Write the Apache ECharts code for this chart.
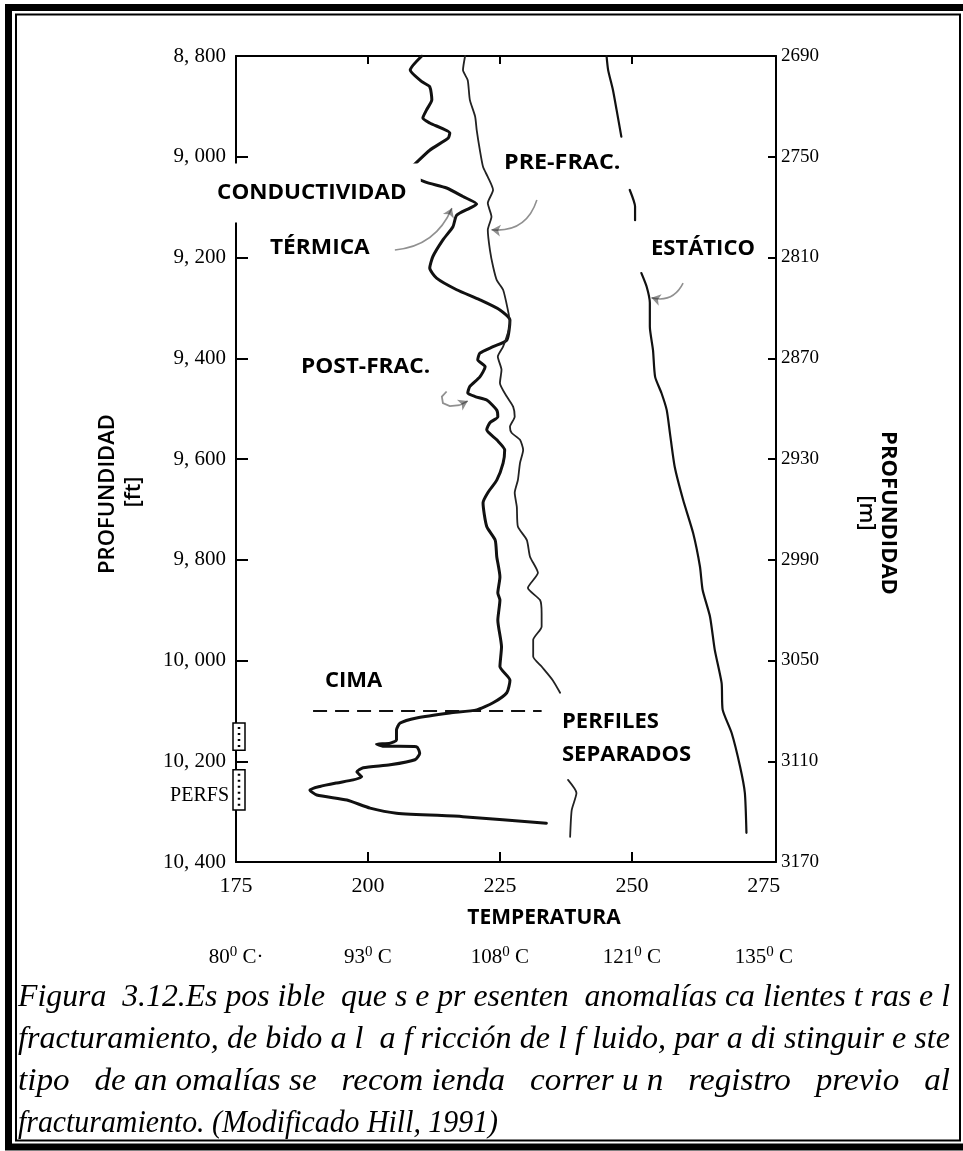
<!DOCTYPE html>
<html><head><meta charset="utf-8">
<script src="https://cdn.jsdelivr.net/npm/echarts@6/dist/echarts.min.js"></script>
<style>html,body{margin:0;padding:0;background:#fff}#c{width:963px;height:1151px}</style>
</head><body><div id="c"></div>
<script>
// ---------- axis ticks & labels ----------
const tempTicks = [175, 200, 225, 250, 275];
const tempInnerTicks = [200, 225, 250];
const celsiusLabels = ['80', '93', '108', '121', '135'];
const depthTicks = [8800, 9000, 9200, 9400, 9600, 9800, 10000, 10200, 10400];
const depthInnerTicks = [9000, 9200, 9400, 9600, 9800, 10000, 10200];
const depthLabels = ['8, 800', '9, 000', '9, 200', '9, 400', '9, 600', '9, 800', '10, 000', '10, 200', '10, 400'];
const meterLabels = ['2690', '2750', '2810', '2870', '2930', '2990', '3050', '3110', '3170'];

// ---------- series values (temperature °F, depth ft) ----------
const postFracTemp = [210.2,208.0,210.2,211.7,212.1,211.1,210.4,211.7,215.5,215.2,211.7,208.3,207.0,210.8,214.9,218.0,220.6,219.3,216.8,216.1,214.2,212.3,211.7,213.0,216.8,221.2,225.0,226.9,226.3,223.7,221.2,220.8,222.2,221.2,219.3,218.9,220.3,222.5,224.4,224.6,223.1,222.5,224.4,225.9,225.6,224.4,222.7,221.8,222.5,224.1,224.4,225.0,224.6,225.0,224.6,225.3,225.0,226.9,226.3,223.7,220.6,215.5,209.2,206.1,205.4,205.4,204.2,201.6,202.8,209.2,209.8,208.9,204.2,199.1,197.9,198.8,197.2,194.1,190.9,189.0,190.3,196.0,200.4,205.4,218.0,233.8];
const postFracDepth = [8800,8828,8851,8861,8887,8907,8923,8933,8953,8963,8987,9020,9030,9050,9062,9079,9094,9102,9116,9139,9165,9198,9221,9241,9264,9284,9304,9324,9364,9377,9390,9403,9417,9437,9456,9469,9476,9483,9503,9516,9528,9542,9562,9582,9608,9642,9667,9687,9734,9761,9794,9834,9866,9880,9920,9973,10012,10039,10064,10084,10098,10104,10114,10124,10138,10158,10164,10166,10170,10171,10184,10197,10207,10213,10221,10231,10237,10243,10250,10257,10267,10277,10293,10303,10310,10323];

const preFracTemp = [218.4,218.0,218.9,219.3,220.3,220.6,221.2,221.8,222.7,223.7,222.7,223.4,222.7,223.1,223.7,224.4,225.6,226.5,226.9,226.5,225.6,224.6,225.3,225.0,226.3,227.5,227.8,226.9,227.2,228.8,229.4,228.8,228.4,227.8,228.2,228.4,230.1,230.7,232.2,230.3,232.6,232.9,232.9,231.3,231.3,232.9,235.0,236.4,null,237.9,239.5,238.6,238.3];
const preFracDepth = [8800,8828,8848,8887,8920,8947,8987,9020,9040,9066,9092,9119,9145,9185,9218,9245,9264,9304,9330,9350,9377,9397,9423,9449,9476,9496,9516,9536,9548,9562,9582,9608,9642,9667,9695,9734,9761,9794,9826,9856,9880,9906,9933,9959,9992,10012,10039,10064,null,10237,10263,10297,10350];

const staticTemp = [245.2,245.5,246.4,247.1,248.0,null,249.6,250.6,250.6,null,251.8,252.8,253.4,253.4,254.0,254.4,255.6,256.6,257.2,258.1,259.7,261.6,262.9,263.4,264.8,265.7,267.0,267.2,268.9,270.5,271.4,271.7];
const staticDepth = [8800,8828,8867,8907,8960,null,9066,9099,9126,null,9231,9258,9290,9337,9384,9437,9469,9503,9548,9615,9681,9747,9814,9860,9913,9979,10045,10098,10144,10211,10263,10342];

const cimaTemp = [189.6, 232.9];
const cimaDepth = [10100, 10100];

// annotation arrows
const arrowFrom = [[205.1, 9185], [232.0, 9086], [259.7, 9251], [217.4, 9493]];
const arrowTo = [[215.9, 9102], [223.4, 9145], [253.7, 9280], [218.9, 9485]];
const arrowCurve = [-0.3, 0.4, 0.4, 0];
const hookTemp = [214.9, 214.0, 214.2, 215.5, 217.4];
const hookDepth = [9466, 9476, 9489, 9495, 9493];

// perforation intervals (ft)
const perfTop = [10124, 10217];
const perfBottom = [10178, 10297];

const captionLines = [
  'Figura  3.12.Es pos ible  que s e pr esenten  anomalías ca lientes t ras e l',
  'fracturamiento, de bido a l  a f ricción de l f luido, par a di stinguir e ste',
  'tipo   de an omalías se   recom ienda   correr u n   registro   previo   al',
  'fracturamiento. (Modificado Hill, 1991)'
];

// ---------- build ----------
const serif = '"Liberation Serif", "Times New Roman", serif';
const sans = '"Open Sans", "DejaVu Sans", sans-serif';
const pair = (T, D) => T.map((t, i) => (t === null ? ['-', '-'] : [t, D[i]]));

const chart = echarts.init(document.getElementById('c'), null, {renderer: 'canvas'});

const xBase = {type: 'value', min: 175, max: 277.3, splitLine: {show: false}};
const yBase = {type: 'value', min: 8800, max: 10400, inverse: true, splitLine: {show: false}};
const axLine = {show: true, onZero: false, lineStyle: {color: '#000', width: 2}};

const option = {
  animation: false,
  backgroundColor: '#fff',
  grid: {left: 236, top: 56, width: 540, height: 806},
  xAxis: [
    Object.assign({}, xBase, {
      position: 'bottom', axisLine: axLine,
      axisTick: {show: true, inside: true, length: 10, customValues: tempInnerTicks, lineStyle: {color: '#000', width: 2}},
      axisLabel: {customValues: tempTicks, formatter: v => String(v), margin: 13, fontFamily: serif, fontSize: 22, color: '#000'}
    }),
    Object.assign({}, xBase, {
      position: 'top', axisLine: axLine,
      axisTick: {show: true, inside: true, length: 8, customValues: tempInnerTicks, lineStyle: {color: '#000', width: 2}},
      axisLabel: {show: false}
    }),
    Object.assign({}, xBase, {
      position: 'bottom', offset: 70, axisLine: {show: false}, axisTick: {show: false},
      axisLabel: {
        customValues: tempTicks, margin: 13,
        formatter: v => {
          const i = tempTicks.indexOf(v);
          return '{n|' + celsiusLabels[i] + '}{s|0}{n| C' + (i === 0 ? '·' : '') + '}';
        },
        rich: {
          n: {fontFamily: serif, fontSize: 21, color: '#000', lineHeight: 24},
          s: {fontFamily: serif, fontSize: 15, color: '#000', verticalAlign: 'top', lineHeight: 14}
        }
      }
    })
  ],
  yAxis: [
    Object.assign({}, yBase, {
      position: 'left', axisLine: axLine,
      axisTick: {show: true, inside: true, length: 12, customValues: depthInnerTicks, lineStyle: {color: '#000', width: 2}},
      axisLabel: {customValues: depthTicks, formatter: v => depthLabels[depthTicks.indexOf(v)], margin: 10, fontFamily: serif, fontSize: 21, color: '#000'}
    }),
    Object.assign({}, yBase, {
      position: 'right', axisLine: axLine,
      axisTick: {show: true, inside: true, length: 8, customValues: depthInnerTicks, lineStyle: {color: '#000', width: 2}},
      axisLabel: {customValues: depthTicks, formatter: v => meterLabels[depthTicks.indexOf(v)], margin: 5, fontFamily: serif, fontSize: 19, color: '#000'}
    })
  ],
  series: [
    {name: 'POST-FRAC.', type: 'line', data: pair(postFracTemp, postFracDepth), symbol: 'none', smooth: 0.2,
     lineStyle: {color: '#111', width: 3, join: 'round', cap: 'round'}, z: 3},
    {name: 'PRE-FRAC.', type: 'line', data: pair(preFracTemp, preFracDepth), symbol: 'none', smooth: 0.2,
     lineStyle: {color: '#222', width: 1.8, join: 'round', cap: 'round'}, z: 3},
    {name: 'ESTÁTICO', type: 'line', data: pair(staticTemp, staticDepth), symbol: 'none', smooth: 0.2,
     lineStyle: {color: '#111', width: 2.2, join: 'round', cap: 'round'}, z: 3},
    {name: 'CIMA', type: 'line', data: pair(cimaTemp, cimaDepth), symbol: 'none',
     lineStyle: {color: '#111', width: 2, type: [14, 8]}, z: 3},
    {type: 'lines', coordinateSystem: 'cartesian2d', xAxisIndex: 0, yAxisIndex: 0,
     symbol: ['none', 'arrow'], symbolSize: 9,
     lineStyle: {color: '#222', width: 1.6},
     data: arrowFrom.map((f, i) => ({coords: [f, arrowTo[i]], lineStyle: {curveness: arrowCurve[i]}})), z: 4},
    {type: 'lines', coordinateSystem: 'cartesian2d', xAxisIndex: 0, yAxisIndex: 0, polyline: true,
     lineStyle: {color: '#222', width: 1.8},
     data: [{coords: pair(hookTemp, hookDepth)}], z: 4}
  ]
};
chart.setOption(option);

// ---------- annotations / frame ----------
const g = [];
g.push({type: 'rect', shape: {x: 8.5, y: 7.5, width: 970, height: 1139.5}, style: {fill: 'none', stroke: '#000', lineWidth: 7}, z: 100});
g.push({type: 'rect', shape: {x: 16, y: 14.5, width: 944, height: 1126}, style: {fill: 'none', stroke: '#000', lineWidth: 2}, z: 100});

function label(text, x, y, opts) {
  opts = opts || {};
  g.push({
    type: 'text', x: x, y: y, z: 110, rotation: opts.rotation || 0, scaleX: opts.scaleX || 1,
    style: Object.assign({
      text: text, fontFamily: sans, fontWeight: 'bold', fontSize: 22, fill: '#000',
      align: opts.align || 'left', verticalAlign: 'middle'
    }, opts.style || {})
  });
}
label('CONDUCTIVIDAD', 213, 193, {scaleX: 1.02, style: {backgroundColor: '#fff', padding: [25, 14, 12, 4]}});
label('TÉRMICA', 270, 248, {scaleX: 1.03});
label('PRE-FRAC.', 504, 163, {scaleX: 1.06});
label('ESTÁTICO', 651, 249);
label('POST-FRAC.', 301, 367, {scaleX: 1.03});
label('CIMA', 325, 681);
label('PERFILES', 562, 722);
label('SEPARADOS', 562, 755);
label('PERFS', 229, 796, {align: 'right', style: {fontFamily: serif, fontWeight: 'normal', fontSize: 20}});
label('TEMPERATURA', 544, 918, {align: 'center', style: {fontSize: 21}});
label('PROFUNDIDAD', 108, 494, {align: 'center', rotation: Math.PI / 2, style: {fontSize: 22, fontWeight: 600}});
label('[ft]', 134, 492, {align: 'center', rotation: Math.PI / 2, style: {fontSize: 22, fontWeight: 600}});
label('PROFUNDIDAD', 888, 513, {align: 'center', rotation: -Math.PI / 2, style: {fontSize: 22}});
label('[m]', 866, 513, {align: 'center', rotation: -Math.PI / 2, style: {fontSize: 22, fontWeight: 600}});

// perforation boxes via the axis scales
const x0 = chart.convertToPixel({xAxisIndex: 0}, 175);
perfTop.forEach((d, i) => {
  const y1 = chart.convertToPixel({yAxisIndex: 0}, d);
  const y2 = chart.convertToPixel({yAxisIndex: 0}, perfBottom[i]);
  g.push({type: 'rect', z: 105, shape: {x: x0 - 3, y: y1, width: 12, height: y2 - y1}, style: {fill: '#fff', stroke: '#000', lineWidth: 1.5}});
  g.push({type: 'line', z: 106, shape: {x1: x0 + 3, y1: y1 + 4, x2: x0 + 3, y2: y2 - 3}, style: {stroke: '#000', lineWidth: 2.5, lineDash: [2, 4]}});
});

// caption (lines 1-3 justified, glyphs slightly condensed like the original)
const ctx = document.createElement('canvas').getContext('2d');
const capSize = 32;
ctx.font = 'italic ' + capSize + 'px "Liberation Serif"';
const capLeft = 18, capRight = 950, lastLineRight = 498;
captionLines.forEach((t, i) => {
  const w = ctx.measureText(t).width;
  const sx = ((i < 3 ? capRight : lastLineRight) - capLeft) / w;
  g.push({type: 'text', x: capLeft, y: 998 + i * 42, scaleX: sx, z: 110,
    style: {text: t, fontFamily: serif, fontStyle: 'italic', fontSize: capSize, fill: '#000', align: 'left', verticalAlign: 'middle'}});
});

chart.setOption({graphic: g});
</script>
</body></html>
